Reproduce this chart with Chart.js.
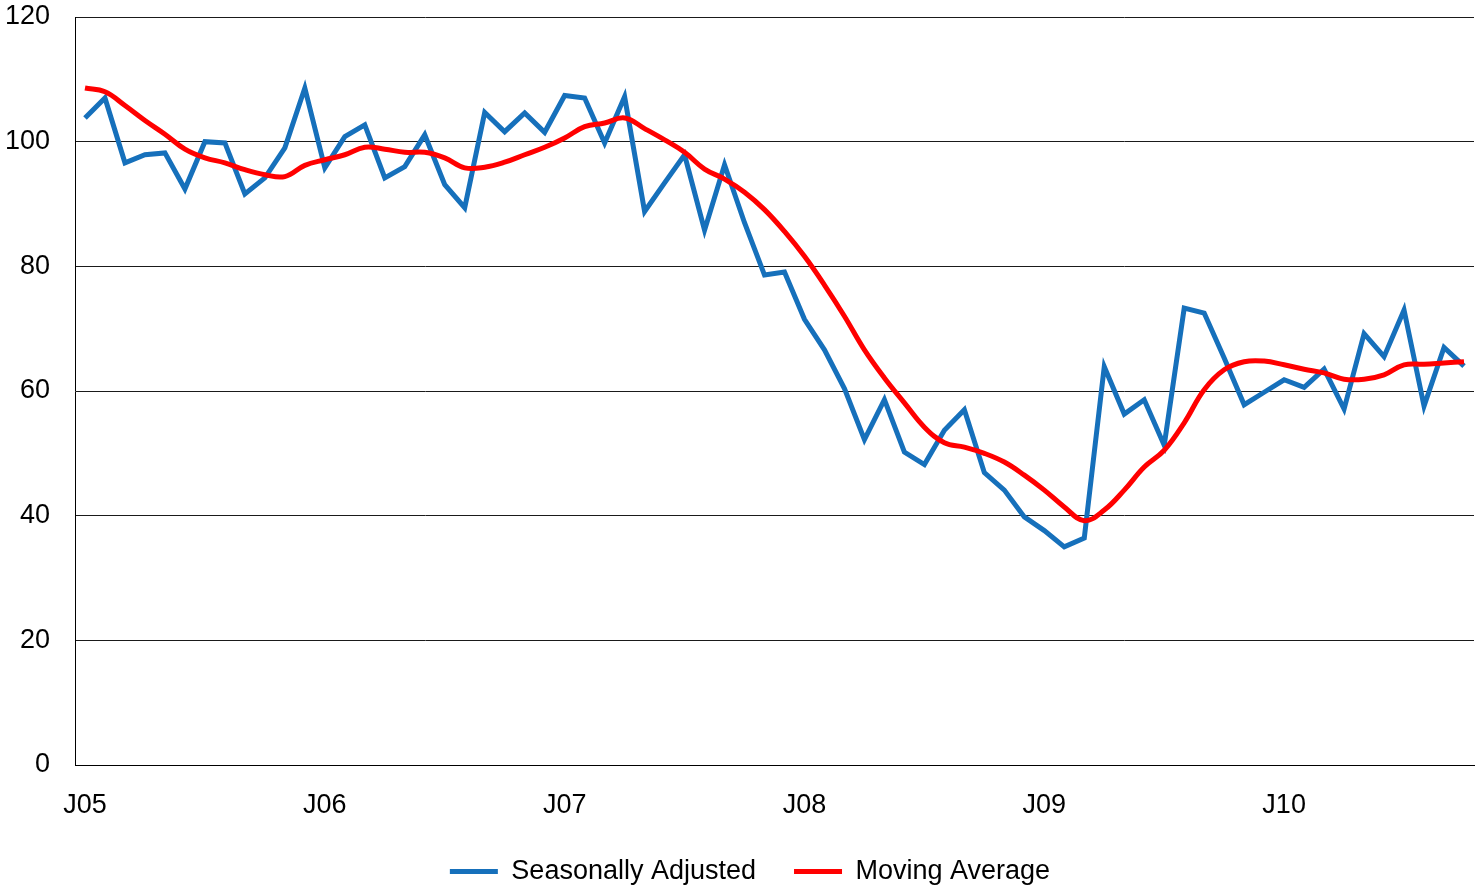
<!DOCTYPE html>
<html>
<head>
<meta charset="utf-8">
<script src="https://cdn.jsdelivr.net/npm/chart.js@4.4.1/dist/chart.umd.min.js"></script>
<style>
  html, body { margin: 0; padding: 0; background: #fff; }
  #wrap { width: 1480px; height: 890px; }
</style>
</head>
<body>
<div id="wrap"><canvas id="lineChart" width="1480" height="890"></canvas></div>
<script>
// monthly categories Jan 2005 .. Oct 2010
const monthLetters = ['J', 'F', 'M', 'A', 'M', 'J', 'J', 'A', 'S', 'O', 'N', 'D'];
const years = ['05', '06', '07', '08', '09', '10'];
const lastMonthIndex = 9; // Oct 2010

const seasonallyAdjusted = [
    103.8, 107.0, 96.6, 97.9, 98.2, 92.4, 100.0, 99.8, 91.6, 94.2, 99.0, 108.6,
    95.8, 100.8, 102.7, 94.2, 96.0, 101.1, 93.1, 89.4, 104.7, 101.6, 104.6, 101.5,
    107.4, 107.0, 99.8, 107.2, 88.8, 93.4, 97.9, 85.8, 96.3, 87.0, 78.6, 79.1,
    71.5, 66.6, 60.4, 52.2, 58.6, 50.2, 48.2, 53.7, 57.0, 46.9, 44.1, 39.8,
    37.6, 35.0, 36.4, 63.9, 56.3, 58.6, 51.3, 73.3, 72.5, 65.3, 57.8, 59.8,
    61.8, 60.6, 63.5, 57.1, 69.2, 65.5, 73.0, 57.6, 67.0, 64.0
];

const movingAverage = [
    108.6, 108.0, 105.8, 103.4, 101.2, 98.8, 97.4, 96.6, 95.5, 94.7, 94.4, 96.2,
    97.1, 97.9, 99.1, 98.8, 98.3, 98.3, 97.4, 95.8, 95.9, 96.7, 97.9, 99.1,
    100.6, 102.4, 103.0, 103.8, 102.1, 100.3, 98.3, 95.6, 94.0, 91.9, 89.1, 85.6,
    81.6, 77.0, 72.0, 66.6, 62.1, 58.1, 54.2, 51.7, 51.0, 50.0, 48.6, 46.5,
    44.1, 41.4, 39.2, 40.9, 44.1, 47.8, 50.5, 54.9, 60.2, 63.4, 64.7, 64.8,
    64.2, 63.5, 62.9, 61.9, 61.9, 62.6, 64.2, 64.3, 64.5, 64.7
];

const yTicks = [0, 20, 40, 60, 80, 100, 120];

const labels = [];
years.forEach((yy, yi) => {
    monthLetters.forEach((m, mi) => {
        if (yi === years.length - 1 && mi > lastMonthIndex) return;
        labels.push(m + yy);
    });
});

const font = { family: '"Liberation Sans", Arial, sans-serif', size: 27 };

// legend in the original sits a little right of the page centre
const legendShift = {
    id: 'legendShift',
    afterLayout: function(c) {
        c.legend.left += 13;
        c.legend.right += 13;
    }
};

const ctx = document.getElementById('lineChart').getContext('2d');
const chart = new Chart(ctx, {
    type: 'line',
    plugins: [legendShift],
    data: {
        labels: labels,
        datasets: [{
            label: 'Seasonally Adjusted',
            data: seasonallyAdjusted,
            borderColor: '#1670bb',
            backgroundColor: '#1670bb',
            borderWidth: 5,
            pointRadius: 0,
            tension: 0,
            order: 2
        }, {
            label: 'Moving Average',
            data: movingAverage,
            borderColor: '#ff0000',
            backgroundColor: '#ff0000',
            borderWidth: 5,
            pointRadius: 0,
            tension: 0.4,
            order: 1
        }]
    },
    options: {
        responsive: false,
        animation: false,
        layout: {
            padding: { top: 17, right: 6, left: 0, bottom: -5 }
        },
        plugins: {
            legend: {
                display: true,
                position: 'bottom',
                labels: {
                    color: '#000',
                    font: font,
                    boxWidth: 48,
                    boxHeight: 5,
                    padding: 38,
                    generateLabels: function(c) {
                        return c.data.datasets.map((ds, i) => ({
                            text: ds.label,
                            fillStyle: ds.borderColor,
                            strokeStyle: ds.borderColor,
                            lineWidth: 0,
                            datasetIndex: i,
                            hidden: false
                        }));
                    }
                }
            },
            tooltip: { enabled: false }
        },
        scales: {
            x: {
                offset: true,
                grid: { display: false, drawTicks: false },
                border: { display: true, color: '#000', width: 1 },
                ticks: {
                    autoSkip: false,
                    maxRotation: 0,
                    color: '#000',
                    font: font,
                    padding: 24,
                    callback: function(value, index) {
                        return index % 12 === 0 ? labels[index] : '';
                    }
                },
                afterFit: function(scale) {
                    scale.height = 55;
                    scale.paddingLeft = 0;
                    scale.paddingRight = 0;
                }
            },
            y: {
                min: 0,
                max: 120,
                afterBuildTicks: function(scale) {
                    scale.ticks = yTicks.map(v => ({ value: v }));
                },
                grid: { color: '#1a1a1a', lineWidth: 1, drawTicks: false },
                border: { display: true, color: '#000', width: 1 },
                ticks: {
                    color: '#000',
                    font: font,
                    padding: 25
                },
                afterFit: function(scale) {
                    scale.width = 75;
                    scale.paddingTop = 0;
                    scale.paddingBottom = 0;
                }
            }
        }
    }
});
</script>
</body>
</html>
